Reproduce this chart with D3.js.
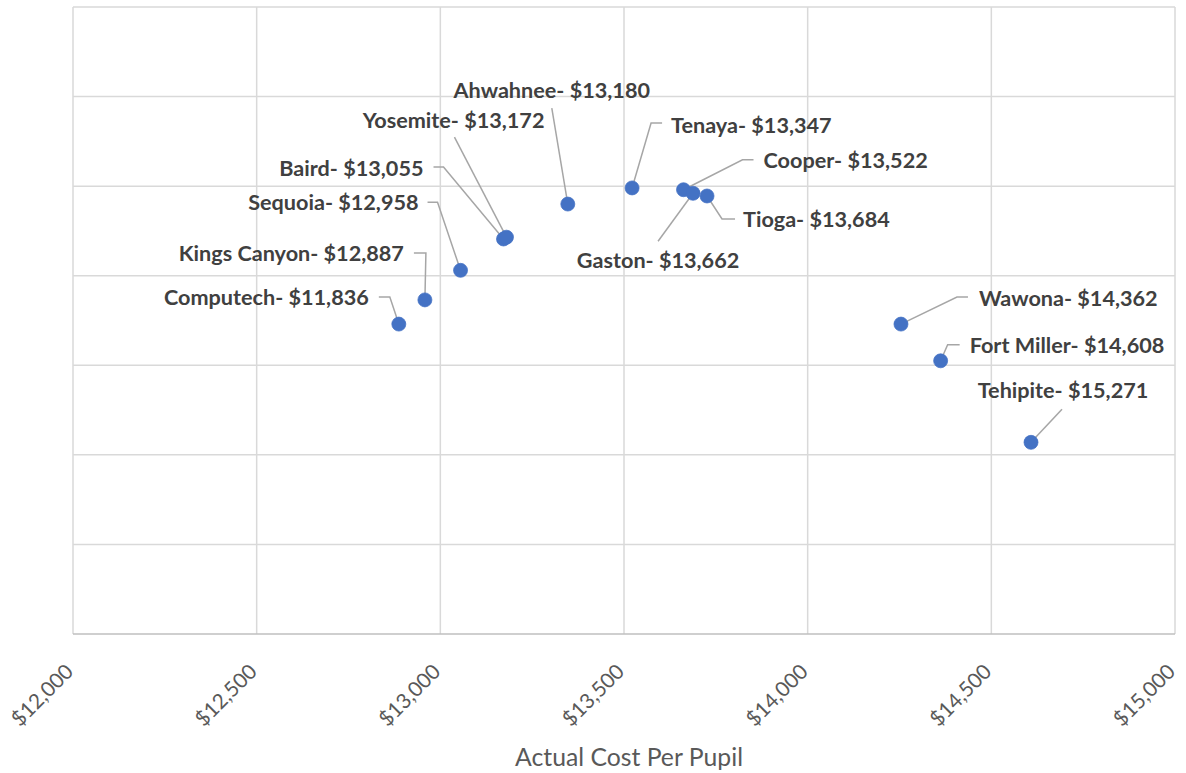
<!DOCTYPE html>
<html>
<head>
<meta charset="utf-8">
<script src="https://cdn.jsdelivr.net/npm/d3@7"></script>
<style>
  html, body { margin: 0; padding: 0; background: #ffffff; }
  svg { display: block; }
</style>
</head>
<body>
<svg id="chart" width="1186" height="773"></svg>
<script>
// ---- data ----
const schools = ["Computech", "Kings Canyon", "Sequoia", "Baird", "Yosemite", "Ahwahnee", "Tenaya",
                 "Cooper", "Gaston", "Tioga", "Wawona", "Fort Miller", "Tehipite"];
const costPerPupil = [12887, 12958, 13055, 13172, 13180, 13347, 13522, 13662, 13688, 13726, 14254, 14362, 14608];
const yValues = [3.46, 3.73, 4.06, 4.41, 4.43, 4.80, 4.98, 4.96, 4.92, 4.89, 3.46, 3.05, 2.14];
const labelValues = [11836, 12887, 12958, 13055, 13172, 13180, 13347, 13522, 13662, 13684, 14362, 14608, 15271];
const xTicks = [12000, 12500, 13000, 13500, 14000, 14500, 15000];
const yTicks = [0, 1, 2, 3, 4, 5, 6, 7];
const xTitle = "Actual Cost Per Pupil";

// ---- label layout (pixel offsets from each point) ----
const labelLayout = [
  {dx: -30, dy: -27, anchor: "end",    leader: [[-20, -27], [-9, -27]]},
  {dx: -21, dy: -47, anchor: "end",    leader: [[-11, -47], [1, -47]]},
  {dx: -42, dy: -68, anchor: "end",    leader: [[-33, -68], [-23, -68]]},
  {dx: -80, dy: -71, anchor: "end",    leader: [[-70, -72], [-60, -72]]},
  {dx: 38,  dy: -117, anchor: "end",   leader: [[-52, -100]]},
  {dx: -16, dy: -114, anchor: "middle", leader: [[-16, -96]]},
  {dx: 39,  dy: -63, anchor: "start",  leader: [[30, -65], [19, -65]]},
  {dx: 80,  dy: -30, anchor: "start",  leader: [[70, -30], [59, -30]]},
  {dx: -35, dy: 67,  anchor: "middle", leader: [[-35, 48]]},
  {dx: 36,  dy: 23,  anchor: "start",  leader: [[28, 23], [15, 23]]},
  {dx: 78,  dy: -26, anchor: "start",  leader: [[67, -27], [56, -27]]},
  {dx: 29,  dy: -16, anchor: "start",  leader: [[19, -16], [7, -16]]},
  {dx: 32,  dy: -52, anchor: "middle", leader: [[31, -33]]}
];

const W = 1186, H = 773;
const m = {left: 73, right: 11, top: 7, bottom: 139};
const svg = d3.select("#chart");

const x = d3.scaleLinear().domain([12000, 15000]).range([m.left, W - m.right]);
const y = d3.scaleLinear().domain([0, 7]).range([H - m.bottom, m.top]);

const fmt = d3.format(",");
const money = v => "$" + fmt(v);

// gridlines
const grid = svg.append("g");
grid.selectAll("line.v").data(xTicks).join("line")
  .attr("x1", d => x(d)).attr("x2", d => x(d))
  .attr("y1", y(7)).attr("y2", y(0))
  .attr("stroke", "#d9d9d9").attr("stroke-width", 1.5);
grid.selectAll("line.h").data(yTicks).join("line")
  .attr("x1", x(12000)).attr("x2", x(15000))
  .attr("y1", d => y(d)).attr("y2", d => y(d))
  .attr("stroke", d => d === 0 ? "#bfbfbf" : "#d9d9d9").attr("stroke-width", 1.5);

// x axis tick labels via d3 axis
const xAxis = d3.axisBottom(x).tickValues(xTicks).tickFormat(money).tickSize(0).tickPadding(0);
const gx = svg.append("g").attr("transform", `translate(0,${y(0)})`).call(xAxis);
gx.select(".domain").remove();
gx.selectAll("text")
  .attr("font-family", "Lato, 'Open Sans', sans-serif")
  .attr("font-size", 20)
  .attr("fill", "#595959")
  .attr("text-anchor", "end")
  .attr("dy", null)
  .attr("y", 0)
  .attr("transform", "translate(1,39) rotate(-45)");

// fit helper
function fitSize(textNode, base, target) {
  const w = textNode.getComputedTextLength();
  return base * target / w;
}
const tickFs = fitSize(gx.select("text").node(), 20, 77);
gx.selectAll("text").attr("font-size", tickFs);

// axis title
const title = svg.append("text")
  .attr("x", 629)
  .attr("y", 766)
  .attr("text-anchor", "middle")
  .attr("font-family", "Lato, 'Open Sans', sans-serif")
  .attr("font-size", 22)
  .attr("fill", "#595959")
  .text(xTitle);
title.attr("font-size", fitSize(title.node(), 22, 228));

// points
const pts = schools.map((s, i) => ({
  name: s, cx: x(costPerPupil[i]), cy: y(yValues[i]), lab: labelValues[i], lay: labelLayout[i]
}));

// leader lines
svg.append("g").selectAll("path").data(pts).join("path")
  .attr("d", d => {
    const p = d.lay.leader.map(o => [d.cx + o[0], d.cy + o[1]]);
    p.push([d.cx, d.cy]);
    return d3.line()(p);
  })
  .attr("fill", "none").attr("stroke", "#a6a6a6").attr("stroke-width", 1.5);

svg.append("g").selectAll("circle").data(pts).join("circle")
  .attr("cx", d => d.cx).attr("cy", d => d.cy).attr("r", 7)
  .attr("fill", "#4472c4").attr("stroke", "#4472c4").attr("stroke-width", 0.75);

// data labels
const labels = svg.append("g").selectAll("text").data(pts).join("text")
  .attr("x", d => d.cx + d.lay.dx)
  .attr("y", d => d.cy + d.lay.dy)
  .attr("dy", "0.36em")
  .attr("text-anchor", d => d.lay.anchor)
  .attr("font-family", "Lato, 'Open Sans', sans-serif")
  .attr("font-weight", "bold")
  .attr("font-size", 20)
  .attr("fill", "#404040")
  .text(d => d.name + "- " + money(d.lab));
const labFs = fitSize(labels.nodes()[0], 20, 205);
labels.attr("font-size", labFs);
</script>
</body>
</html>
